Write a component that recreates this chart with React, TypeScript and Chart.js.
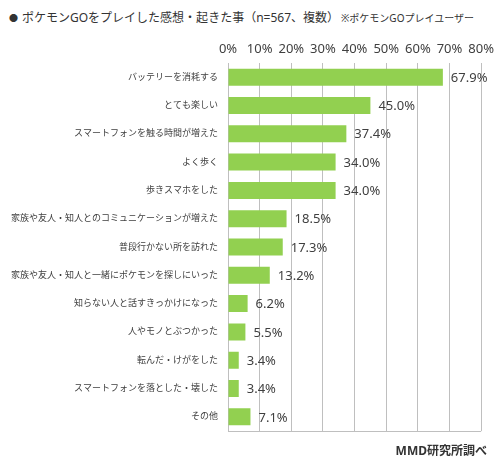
import { useEffect, useRef } from "react";
import { Chart, registerables } from "chart.js";

Chart.register(...registerables);

const categories = [
  "バッテリーを消耗する",
  "とても楽しい",
  "スマートフォンを触る時間が増えた",
  "よく歩く",
  "歩きスマホをした",
  "家族や友人・知人とのコミュニケーションが増えた",
  "普段行かない所を訪れた",
  "家族や友人・知人と一緒にポケモンを探しにいった",
  "知らない人と話すきっかけになった",
  "人やモノとぶつかった",
  "転んだ・けがをした",
  "スマートフォンを落とした・壊した",
  "その他",
];

const percents = [67.9, 45.0, 37.4, 34.0, 34.0, 18.5, 17.3, 13.2, 6.2, 5.5, 3.4, 3.4, 7.1];

const xTicks = [0, 10, 20, 30, 40, 50, 60, 70, 80];

const FONT = '"Noto Sans", "Noto Sans CJK JP", sans-serif';
const TEXT = "#404040";
const GRID = "#bfbfbf";

// value labels to the right of each bar
const valueLabels = {
  id: "valueLabels",
  afterDatasetsDraw(chart: Chart) {
    const ctx = chart.ctx;
    const meta = chart.getDatasetMeta(0);
    ctx.save();
    ctx.font = `13px ${FONT}`;
    ctx.fillStyle = TEXT;
    ctx.textAlign = "left";
    ctx.textBaseline = "middle";
    meta.data.forEach((bar: any, i: number) => {
      ctx.fillText(`${percents[i].toFixed(1)}%`, bar.x + 8, bar.y + 1);
    });
    ctx.restore();
  },
};

// bottom edge of the plot area
const bottomLine = {
  id: "bottomLine",
  afterDraw(chart: Chart) {
    const { ctx, chartArea } = chart;
    ctx.save();
    ctx.strokeStyle = GRID;
    ctx.lineWidth = 1;
    ctx.beginPath();
    ctx.moveTo(chartArea.left, chartArea.bottom + 0.5);
    ctx.lineTo(chartArea.right, chartArea.bottom + 0.5);
    ctx.stroke();
    ctx.restore();
  },
};

const PokemonChart = () => {
  const canvasRef = useRef<HTMLCanvasElement>(null);

  useEffect(() => {
    const ctx = canvasRef.current?.getContext("2d");
    if (!ctx) return;

    const chart = new Chart(ctx, {
      type: "bar",
      data: {
        labels: categories,
        datasets: [
          {
            data: percents,
            backgroundColor: "#92d050",
            barPercentage: 0.6,
            categoryPercentage: 1,
          },
        ],
      },
      options: {
        indexAxis: "y",
        responsive: true,
        maintainAspectRatio: false,
        animation: false,
        layout: { padding: { top: 0, left: 0, right: 17, bottom: 40 } },
        plugins: {
          legend: { display: false },
          tooltip: { enabled: false },
        },
        scales: {
          x: {
            position: "top",
            min: xTicks[0],
            max: xTicks[xTicks.length - 1],
            afterBuildTicks: (scale: any) => {
              scale.ticks = xTicks.map((v) => ({ value: v }));
            },
            afterFit: (scale: any) => {
              scale.height = 63;
            },
            border: { display: false },
            grid: { color: GRID, drawTicks: false },
            ticks: {
              color: TEXT,
              font: { family: FONT, size: 13 },
              padding: 6,
              callback: (v: number | string) => `${v}%`,
            },
          },
          y: {
            afterFit: (scale: any) => {
              scale.width = 228;
            },
            border: { display: true, color: GRID },
            grid: { display: false, drawTicks: false },
            ticks: {
              color: TEXT,
              font: { family: FONT, size: 9 },
              padding: 10,
            },
          },
        },
      },
      plugins: [valueLabels, bottomLine],
    });

    return () => chart.destroy();
  }, []);

  return <canvas ref={canvasRef} />;
};

export default function App() {
  return (
    <div
      style={{
        position: "fixed",
        left: 0,
        top: 0,
        width: 500,
        height: 471,
        background: "#fff",
        fontFamily: FONT,
        color: "#333",
      }}
    >
      <div
        style={{
          position: "absolute",
          left: 9,
          top: 9,
          fontSize: 12,
          lineHeight: "18px",
          whiteSpace: "nowrap",
        }}
      >
        <span style={{ fontSize: 9, marginRight: 4, verticalAlign: "1px" }}>●</span>
        ポケモンGOをプレイした感想・起きた事（n=567、複数）
        <span style={{ fontSize: 10, marginLeft: 2 }}>※ポケモンGOプレイユーザー</span>
      </div>
      <div style={{ position: "absolute", left: 0, top: 0, width: 500, height: 471 }}>
        <PokemonChart />
      </div>
      <div
        style={{
          position: "absolute",
          right: 13,
          top: 442,
          fontSize: 12,
          fontWeight: "bold",
          lineHeight: "18px",
          whiteSpace: "nowrap",
        }}
      >
        MMD研究所調べ
      </div>
    </div>
  );
}
